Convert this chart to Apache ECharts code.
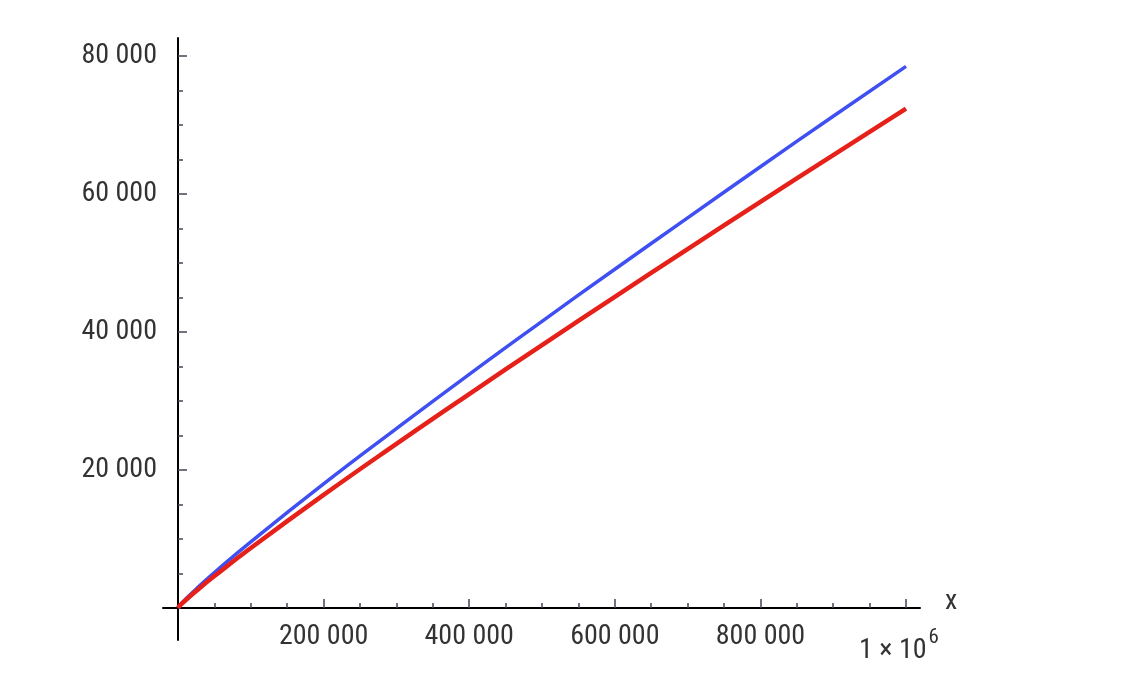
<!DOCTYPE html>
<html>
<head>
<meta charset="utf-8">
<script src="https://cdn.jsdelivr.net/npm/echarts@6/dist/echarts.min.js"></script>
<style>
  html, body { margin: 0; padding: 0; background: #fff; }
  #chart { width: 1122px; height: 690px; }
</style>
</head>
<body>
<div id="chart"></div>
<script>
// valores
const xValues = [0, 2000, 5000, 10000, 25000, 50000, 100000, 200000, 300000, 400000, 500000, 600000, 700000, 800000, 900000, 1000000];
const blueValues = [0, 303, 669, 1229, 2762, 5133, 9592, 17984, 25997, 33860, 41538, 49098, 56543, 63951, 71274, 78498];
const redValues = [0, 263, 587, 1086, 2468, 4621, 8686, 16385, 23787, 31010, 38103, 45097, 52009, 58852, 65636, 72382];

const xMajorTicks = [200000, 400000, 600000, 800000, 1000000];
const xMinorTicks = [50000, 100000, 150000, 250000, 300000, 350000, 450000, 500000, 550000, 650000, 700000, 750000, 850000, 900000, 950000];
const yMajorTicks = [20000, 40000, 60000, 80000];
const yMinorTicks = [5000, 10000, 15000, 25000, 30000, 35000, 45000, 50000, 55000, 65000, 70000, 75000];

const fontFamily = '"Liberation Sans Narrow", "Roboto Condensed", Roboto, sans-serif';

const fmt = (v) => String(v).replace(/\B(?=(\d{3})+(?!\d))/g, ' ');

const chart = echarts.init(document.getElementById('chart'));

const axisLineStyle = { color: '#000', width: 2 };

const option = {
  animation: false,
  grid: { left: 163, right: 202, top: 38, bottom: 50, outerBoundsMode: 'none', containLabel: false },
  xAxis: [
    {
      type: 'value',
      min: -20600,
      max: 1019200,
      position: 'bottom',
      axisLine: { show: true, onZero: true, lineStyle: axisLineStyle },
      axisTick: { show: true, inside: true, length: 9, customValues: xMajorTicks, lineStyle: { color: '#445', width: 1.5 } },
      axisLabel: {
        show: true,
        customValues: xMajorTicks,
        margin: -17,
        fontFamily: fontFamily,
        fontSize: 28,
        color: '#333',
        formatter: (v) => v === 1000000 ? '{a|1 × 10}{s|6}' : fmt(v),
        rich: {
          a: { fontFamily: fontFamily, fontSize: 28, color: '#333', padding: [14, 0, 0, 0] },
          s: { fontFamily: fontFamily, fontSize: 21, color: '#333', padding: [0, 14, 12, 2] }
        }
      },
      splitLine: { show: false },
      name: 'x',
      nameLocation: 'end',
      nameGap: 25,
      nameTextStyle: { fontFamily: fontFamily, fontSize: 28, color: '#333', verticalAlign: 'bottom', lineHeight: 12 }
    },
    {
      type: 'value',
      min: -20600,
      max: 1019200,
      position: 'bottom',
      axisLine: { show: false, onZero: true },
      axisTick: { show: true, inside: true, length: 5, customValues: xMinorTicks, lineStyle: { color: '#445', width: 1.5 } },
      axisLabel: { show: false },
      splitLine: { show: false }
    }
  ],
  yAxis: [
    {
      type: 'value',
      min: -4640,
      max: 82610,
      position: 'left',
      axisLine: { show: true, onZero: true, lineStyle: axisLineStyle },
      axisTick: { show: true, inside: true, length: 9, customValues: yMajorTicks, lineStyle: { color: '#445', width: 1.5 } },
      axisLabel: {
        show: true,
        customValues: yMajorTicks,
        margin: 6,
        fontFamily: fontFamily,
        fontSize: 28,
        color: '#333',
        formatter: (v) => fmt(v)
      },
      splitLine: { show: false }
    },
    {
      type: 'value',
      min: -4640,
      max: 82610,
      position: 'left',
      axisLine: { show: false, onZero: true },
      axisTick: { show: true, inside: true, length: 5, customValues: yMinorTicks, lineStyle: { color: '#445', width: 1.5 } },
      axisLabel: { show: false },
      splitLine: { show: false }
    }
  ],
  series: [
    {
      type: 'line',
      name: 'azul',
      data: xValues.map((x, i) => [x, blueValues[i]]),
      smooth: true,
      showSymbol: false,
      lineStyle: { color: '#3f4ff2', width: 3.5 },
      z: 3
    },
    {
      type: 'line',
      name: 'rojo',
      data: xValues.map((x, i) => [x, redValues[i]]),
      smooth: true,
      showSymbol: false,
      lineStyle: { color: '#e52119', width: 4.5 },
      z: 4
    }
  ]
};

chart.setOption(option);
</script>
</body>
</html>
